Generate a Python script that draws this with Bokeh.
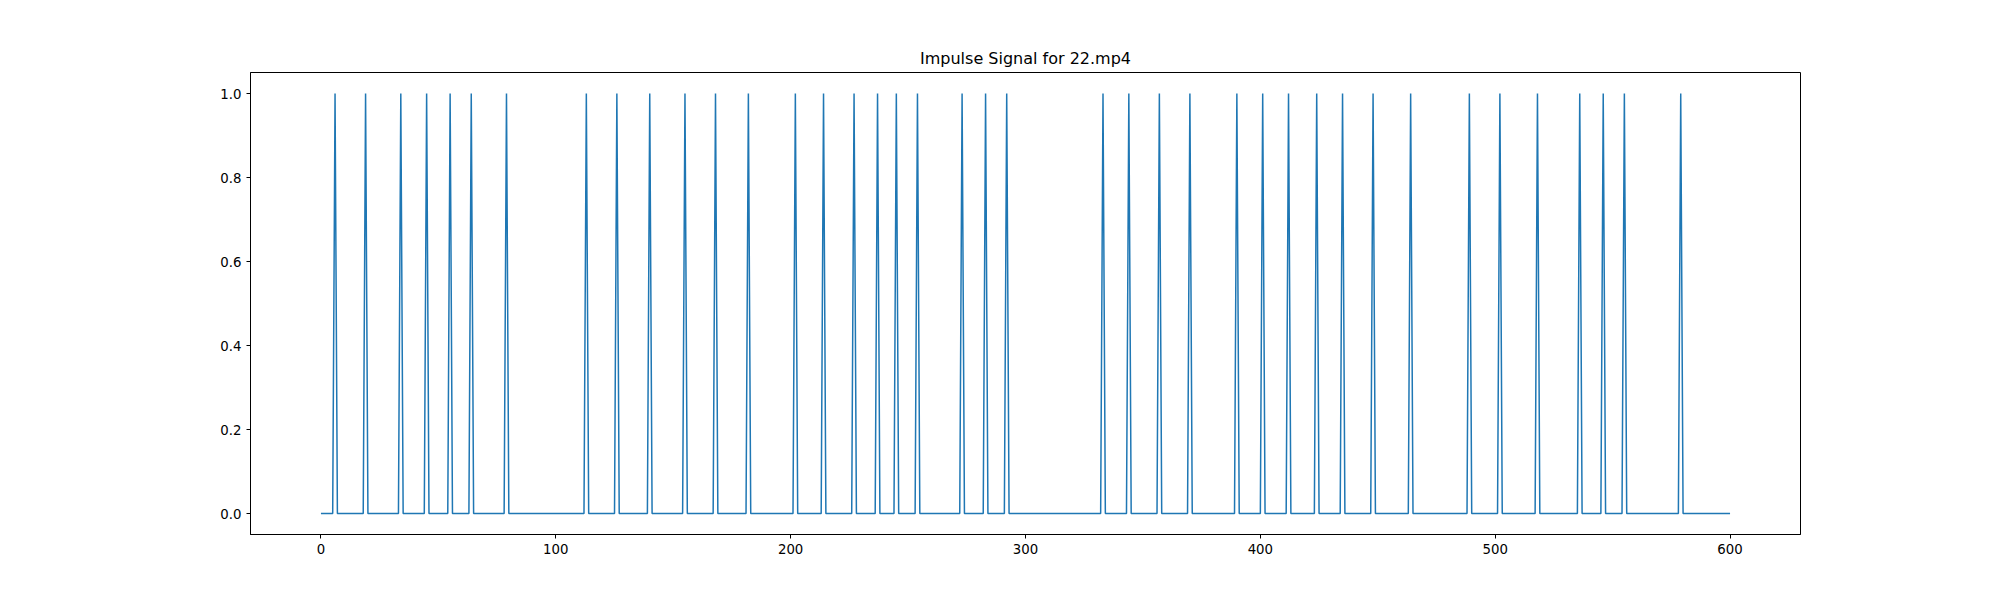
import numpy as np
from bokeh.plotting import figure
from bokeh.models import Range1d, FixedTicker, NumeralTickFormatter, ColumnDataSource
from bokeh.embed import file_html
from bokeh.resources import INLINE

title_text = "Impulse Signal for 22.mp4"
n_frames = 600
impulse_frames = [6, 19, 34, 45, 55, 64, 79, 113, 126, 140, 155, 168, 182, 202,
                  214, 227, 237, 245, 254, 273, 283, 292, 333, 344, 357, 370,
                  390, 401, 412, 424, 435, 448, 464, 489, 502, 518, 536, 546,
                  555, 579]
x_ticks = [0, 100, 200, 300, 400, 500, 600]
y_ticks = [0.0, 0.2, 0.4, 0.6, 0.8, 1.0]

frames = np.arange(n_frames + 1)
signal = np.zeros(n_frames + 1)
signal[impulse_frames] = 1.0
src = ColumnDataSource(dict(x=frames, y=signal))

W, H = 1984, 584
left, right, top, bottom = 250, 1800, 72, 534

p = figure(width=W, height=H, output_backend="svg", toolbar_location=None,
           x_range=Range1d(-30, 630), y_range=Range1d(-0.05, 1.05),
           min_border_left=left, min_border_right=W - right,
           min_border_top=top, min_border_bottom=H - bottom)
p.title.text = title_text
p.title.align = "center"
p.title.text_font = "DejaVu Sans"
p.title.text_font_size = "16px"
p.title.text_font_style = "normal"
p.title.text_color = "black"

p.line("x", "y", source=src, line_color="#1f77b4", line_width=1.5)

p.grid.visible = False
p.outline_line_color = "black"
p.outline_line_width = 1
p.outline_line_alpha = 1

for ax in (p.xaxis[0], p.yaxis[0]):
    ax.axis_line_color = "black"
    ax.major_tick_line_color = "black"
    ax.major_tick_out = 4
    ax.major_tick_in = 0
    ax.minor_tick_line_color = None
    ax.major_label_text_font = "DejaVu Sans"
    ax.major_label_text_font_size = "13.3px"
    ax.major_label_text_color = "black"
    ax.major_label_standoff = 5

p.xaxis[0].ticker = FixedTicker(ticks=x_ticks)
p.yaxis[0].ticker = FixedTicker(ticks=y_ticks)
p.yaxis[0].formatter = NumeralTickFormatter(format="0.0")
p.xaxis[0].formatter = NumeralTickFormatter(format="0")

open("out.html", "w").write(file_html(p, INLINE))
